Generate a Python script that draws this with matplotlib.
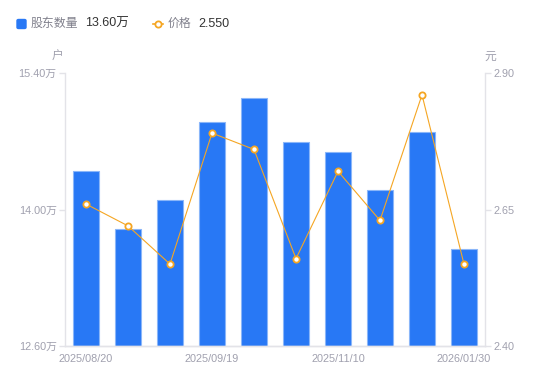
import matplotlib.pyplot as plt
from matplotlib.patches import FancyBboxPatch
from matplotlib.lines import Line2D

plt.rcParams['font.family'] = ['Liberation Sans', 'Noto Sans CJK SC', 'DejaVu Sans']

# 数据
dates = ['2025/08/20', '2025/08/31', '2025/09/10', '2025/09/19', '2025/09/30',
         '2025/10/20', '2025/11/10', '2025/11/30', '2025/12/31', '2026/01/30']
holders = [14.40, 13.80, 14.10, 14.90, 15.14, 14.69, 14.59, 14.20, 14.80, 13.60]  # 万户
price = [2.66, 2.62, 2.55, 2.79, 2.76, 2.56, 2.72, 2.63, 2.86, 2.55]
left_ticks = [12.60, 14.00, 15.40]
right_ticks = [2.40, 2.65, 2.90]
shown_labels = [0, 3, 6, 9]

blue = '#2878f5'
orange = '#f5a623'
axis_c = '#e3e3e8'
label_c = '#a0a0ae'

fig = plt.figure(figsize=(5.5, 3.81), dpi=100)
ax = fig.add_axes([65 / 550, 1 - 346 / 381, 420 / 550, 273 / 381])
ax2 = ax.twinx()

x = list(range(len(dates)))
ax.bar(x, holders, width=0.6, color=blue, edgecolor='#8ab6f9', linewidth=0.8, zorder=2)
ax.set_xlim(-0.5, len(dates) - 0.5)
ax.set_ylim(left_ticks[0], left_ticks[-1])
ax.set_yticks(left_ticks)
ax.set_yticklabels(['%.2f万' % v for v in left_ticks])
ax.set_xticks([x[i] for i in shown_labels])
ax.set_xticklabels([dates[i] for i in shown_labels])

ax2.plot(x, price, color=orange, linewidth=0.8, marker='o', markersize=4.5,
         markerfacecolor='white', markeredgecolor=orange, markeredgewidth=1.3, zorder=3)
ax2.set_ylim(right_ticks[0], right_ticks[-1])
ax2.set_yticks(right_ticks)
ax2.set_yticklabels(['%.2f' % v for v in right_ticks])

for a in (ax, ax2):
    for s in a.spines.values():
        s.set_color(axis_c)
        s.set_linewidth(1)
    a.spines['top'].set_visible(False)
    a.tick_params(axis='both', colors=axis_c, labelcolor=label_c, labelsize=7.8,
                  length=4, width=1, pad=2)
ax.tick_params(axis='x', length=0, pad=6)
ax2.spines['left'].set_visible(False)
ax.spines['right'].set_visible(False)

fig.text(58 / 550, 1 - 57 / 381, '户', color=label_c, fontsize=8.5, ha='center', va='center')
fig.text(490 / 550, 1 - 57 / 381, '元', color=label_c, fontsize=8.5, ha='center', va='center')

# 图例
ly = 1 - 24 / 381
fig.add_artist(FancyBboxPatch((17 / 550, ly - 4.5 / 381), 9 / 550, 9 / 381,
                              boxstyle='round,pad=0,rounding_size=0.003',
                              transform=fig.transFigure, color=blue))
fig.text(31 / 550, ly, '股东数量', color='#80808c', fontsize=8.6, va='center')
fig.text(85 / 550, ly, '13.60万', color='#333333', fontsize=9, va='center')
fig.add_artist(Line2D([153 / 550, 163 / 550], [ly, ly], transform=fig.transFigure,
                      color=orange, linewidth=1.2))
fig.add_artist(Line2D([158 / 550], [ly], transform=fig.transFigure, color=orange,
                      marker='o', markersize=4.5, markerfacecolor='white',
                      markeredgecolor=orange, markeredgewidth=1.3))
fig.text(168 / 550, ly, '价格', color='#80808c', fontsize=8.6, va='center')
fig.text(198 / 550, ly, '2.550', color='#333333', fontsize=9, va='center')

fig.savefig('out.png', dpi=100)
